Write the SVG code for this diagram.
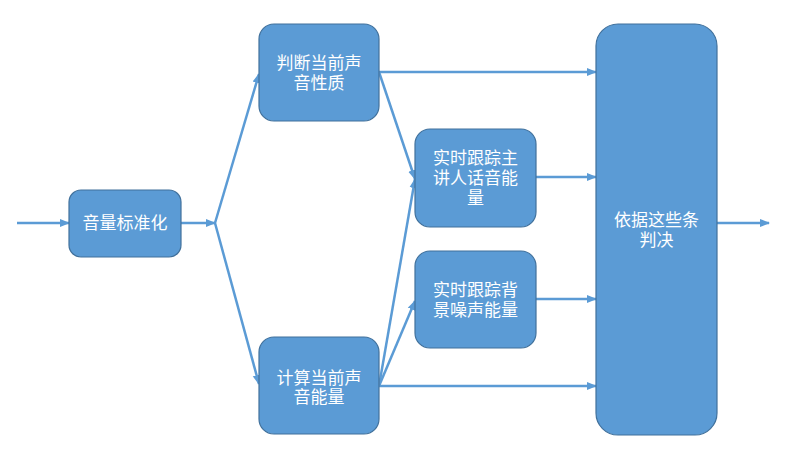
<svg xmlns="http://www.w3.org/2000/svg" width="798" height="469" viewBox="0 0 798 469">
<style>
.node rect{fill:#5B9BD5;stroke:#41719C;stroke-width:1.2}
.node text{fill:#fff;font-family:"Liberation Sans","Noto Sans CJK SC",sans-serif;font-size:17px;text-anchor:middle}
#edges path{fill:none;stroke:#5B9BD5;stroke-width:2.5}
</style>
<defs>
<marker id="ah" markerUnits="userSpaceOnUse" markerWidth="10" markerHeight="10" viewBox="0 0 10 10" refX="9" refY="5" orient="auto">
<path d="M0,1 L10,5 L0,9 Z" fill="#5B9BD5"/>
</marker>
</defs>
<rect width="798" height="469" fill="#fff"/>
<g id="edges">
<path d="M17,223 L69,223" marker-end="url(#ah)"/>
<path d="M181,223 L215,223" marker-end="url(#ah)"/>
<path d="M215,223 L259,74" marker-end="url(#ah)"/>
<path d="M215,223 L259,384" marker-end="url(#ah)"/>
<path d="M379,72 L596,72" marker-end="url(#ah)"/>
<path d="M379,72 L415,179" marker-end="url(#ah)"/>
<path d="M379,386 L415,179" marker-end="url(#ah)"/>
<path d="M379,386 L415,301" marker-end="url(#ah)"/>
<path d="M379,386 L596,386" marker-end="url(#ah)"/>
<path d="M536,177 L596,177" marker-end="url(#ah)"/>
<path d="M536,299 L596,299" marker-end="url(#ah)"/>
<path d="M717,223 L769,223" marker-end="url(#ah)"/>
</g>
<g id="n1" class="node"><rect x="69" y="190" width="112" height="67" rx="12"/><text x="125" y="229">音量标准化</text></g>
<g id="n2" class="node"><rect x="259" y="24" width="120" height="97" rx="15"/><text x="319" y="69">判断当前声</text><text x="319" y="89">音性质</text></g>
<g id="n3" class="node"><rect x="259" y="337" width="120" height="97" rx="15"/><text x="319" y="384">计算当前声</text><text x="319" y="403">音能量</text></g>
<g id="n4" class="node"><rect x="415" y="129" width="121" height="98" rx="15"/><text x="475.5" y="164">实时跟踪主</text><text x="475.5" y="184">讲人话音能</text><text x="475.5" y="204">量</text></g>
<g id="n5" class="node"><rect x="415" y="251" width="121" height="97" rx="15"/><text x="475.5" y="296">实时跟踪背</text><text x="475.5" y="316">景噪声能量</text></g>
<g id="n6" class="node"><rect x="596" y="24" width="121" height="411" rx="22"/><text x="656.5" y="226">依据这些条</text><text x="656.5" y="246">判决</text></g>
</svg>
